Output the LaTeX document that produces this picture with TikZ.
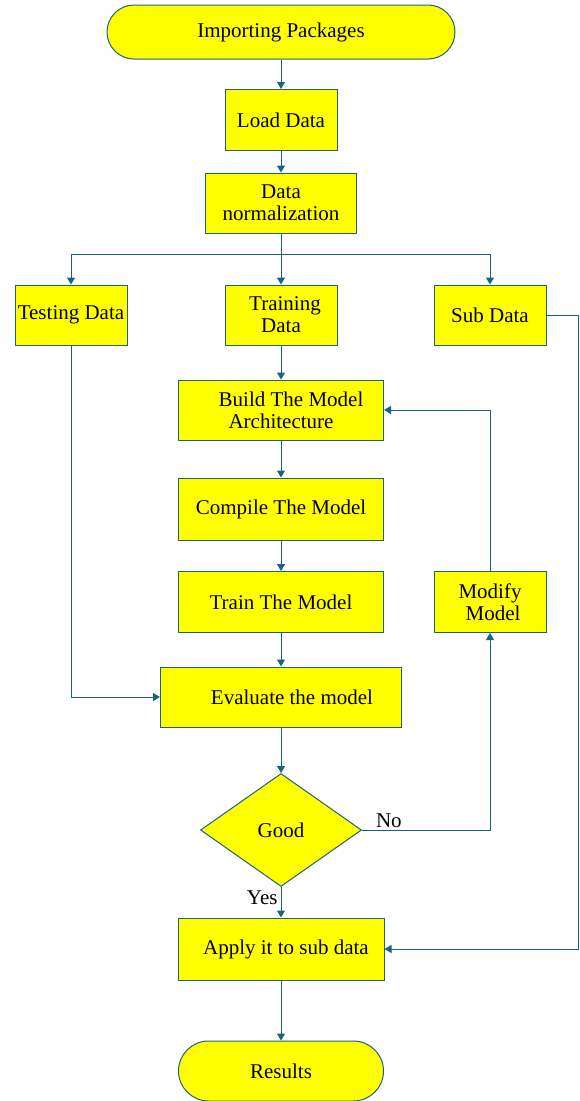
\documentclass[tikz,border=0pt]{standalone}
\usepackage{fontspec}
\setmainfont{Liberation Serif}
\usepackage{tikz}
\usetikzlibrary{positioning, arrows.meta, shapes.geometric, shapes.misc, calc}
\definecolor{edgeblue}{RGB}{28,98,128}
\definecolor{boxyellow}{RGB}{255,255,0}

\begin{document}
\begin{tikzpicture}[x=1pt, y=-1pt,
box/.style={rectangle, draw=edgeblue, fill=boxyellow, line width=1pt, inner sep=0pt, align=center},
term/.style={rounded rectangle, draw=edgeblue, fill=boxyellow, line width=1pt, inner sep=0pt},
decision/.style={diamond, draw=edgeblue, fill=boxyellow, line width=1pt, inner sep=0pt},
arr/.style={draw=edgeblue, line width=1pt, -{Triangle[length=7pt,width=8pt]}}]
\tikzstyle{every node}=[font=\fontsize{21}{22}\selectfont]
\useasboundingbox (0,0) rectangle (579,1101);

% main column
\node[term, minimum width=348pt, minimum height=54pt] (imp) at (281,32) {Importing Packages};
\node[box, minimum width=112pt, minimum height=61pt] (load) at (281,120) {Load Data};
\node[box, minimum width=151pt, minimum height=60pt] (norm) at (281,203) {Data\\normalization};
\node[box, minimum width=112pt, minimum height=60pt] (test) at (71,315) {Testing Data};
\node[box, minimum width=112pt, minimum height=60pt] (train) at (281,315) {\hspace{8pt}Training\\Data};
\node[box, minimum width=112pt, minimum height=60pt] (sub) at (490,315) {Sub Data};
\node[box, minimum width=205pt, minimum height=60pt] (build) at (281,410) {\hspace{20pt}Build The Model\\Architecture};
\node[box, minimum width=205pt, minimum height=62pt] (compile) at (281,509) {Compile The Model};
\node[box, minimum width=205pt, minimum height=61pt] (trainm) at (281,602) {Train The Model};
\node[box, minimum width=241pt, minimum height=60pt] (eval) at (281,697) {\hspace{22pt}Evaluate the model};
\node[box, minimum width=112pt, minimum height=61pt] (modify) at (490,602) {Modify\\\hspace{6pt}Model};
\node[decision, minimum width=161pt, minimum height=113pt] (good) at (281,830) {Good\hspace{20pt}};
\node[box, minimum width=206pt, minimum height=62pt] (apply) at (281,949) {\hspace{10pt}Apply it to sub data};
\node[term, minimum width=205pt, minimum height=60pt] (res) at (281,1071) {Results};

% connectors
\draw[arr] (imp) -- (load);
\draw[arr] (load) -- (norm);
\draw[arr] (norm.south) -- ++(0,21) -| (test.north);
\draw[arr] (norm.south) -- ++(0,21) -| (sub.north);
\draw[arr] (norm) -- (train);
\draw[arr] (train) -- (build);
\draw[arr] (build) -- (compile);
\draw[arr] (compile) -- (trainm);
\draw[arr] (trainm) -- (eval);
\draw[arr] (test.south) |- (eval.west);
\draw[arr] (eval) -- (good);
\draw[arr] (good.south) -- node[left, pos=0.35, inner sep=3pt] {Yes} (apply.north);
\draw[arr] (good.east) -| node[above, pos=0.105, inner sep=2pt] {No} (modify.south);
\draw[arr] (modify.north) |- (build.east);
\draw[arr] (sub.east) -- ++(32,0) |- (apply.east);
\draw[arr] (apply) -- (res);
\end{tikzpicture}
\end{document}
